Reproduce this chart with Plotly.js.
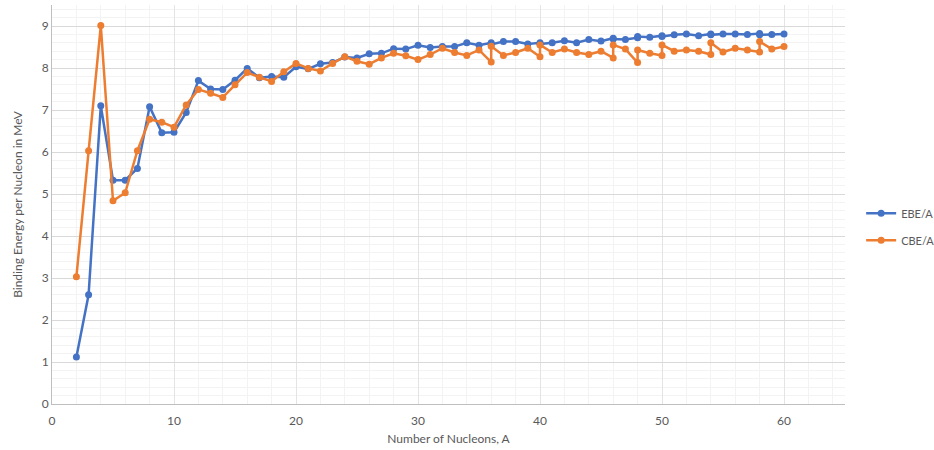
<!DOCTYPE html>
<html>
<head>
<meta charset="utf-8">
<script src="https://cdn.plot.ly/plotly-3.0.1.min.js"></script>
<style>html,body{margin:0;padding:0;background:#fff;}#chart{width:934px;height:450px;}</style>
</head>
<body>
<div id="chart"></div>
<script>
// Number of nucleons A (stable isobars appear twice)
const nucleons = [2,3,4,5,6,7,8,9,10,11,12,13,14,15,16,17,18,19,20,21,22,23,24,25,26,27,28,29,30,31,32,33,34,35,36,36,37,38,39,40,40,41,42,43,44,45,46,46,47,48,48,49,50,50,51,52,53,54,54,55,56,57,58,58,59,60];
// Experimental binding energy per nucleon (MeV)
const ebeA = [1.12,2.60,7.10,5.33,5.33,5.61,7.08,6.46,6.47,6.94,7.70,7.50,7.49,7.71,7.99,7.77,7.80,7.78,8.03,7.98,8.10,8.13,8.26,8.24,8.34,8.35,8.46,8.45,8.54,8.49,8.51,8.51,8.60,8.54,8.60,8.56,8.63,8.63,8.57,8.60,8.57,8.60,8.65,8.60,8.68,8.64,8.71,8.69,8.68,8.72,8.75,8.73,8.77,8.75,8.79,8.81,8.77,8.81,8.79,8.81,8.81,8.80,8.82,8.79,8.80,8.81];
// Calculated binding energy per nucleon (MeV)
const cbeA = [3.03,6.03,9.01,4.84,5.03,6.03,6.78,6.71,6.59,7.12,7.49,7.40,7.30,7.60,7.89,7.78,7.68,7.91,8.11,7.99,7.93,8.11,8.27,8.16,8.09,8.24,8.35,8.29,8.20,8.32,8.47,8.37,8.30,8.43,8.14,8.52,8.30,8.37,8.47,8.27,8.55,8.37,8.45,8.37,8.32,8.40,8.24,8.55,8.45,8.13,8.43,8.35,8.30,8.55,8.40,8.43,8.40,8.32,8.60,8.38,8.47,8.43,8.38,8.63,8.45,8.51];

const xTicks = [0,10,20,30,40,50,60];
const yTicks = [0,1,2,3,4,5,6,7,8,9];

const traces = [
  {x: nucleons, y: ebeA, name: 'EBE/A', legendgroup: 'e', type: 'scatter', mode: 'lines+markers',
   line: {color: '#4472C4', width: 2.5}, marker: {color: '#4472C4', size: 7}},
  {x: nucleons, y: cbeA, name: 'CBE/A', legendgroup: 'c', type: 'scatter', mode: 'lines+markers',
   line: {color: '#ED7D31', width: 2.5}, marker: {color: '#ED7D31', size: 7}}
];

const layout = {
  width: 934, height: 450,
  margin: {l: 52, r: 89, t: 5, b: 46, autoexpand: false},
  paper_bgcolor: '#ffffff', plot_bgcolor: '#ffffff',
  font: {family: 'Lato, "Open Sans", sans-serif', size: 12, color: '#595959'},
  showlegend: true,
  legend: {xref: 'container', yref: 'container', x: 0.922, y: 0.496, xanchor: 'left', yanchor: 'middle',
           font: {size: 11, color: '#595959'}, bgcolor: 'rgba(0,0,0,0)', tracegroupgap: 8},
  xaxis: {
    range: [0, 65], tickvals: xTicks, ticktext: xTicks.map(String),
    showgrid: true, gridcolor: '#e4e4e4', gridwidth: 1,
    minor: {dtick: 2, showgrid: true, gridcolor: '#f3f3f3', gridwidth: 1},
    showline: true, linecolor: '#bfbfbf', linewidth: 1,
    zeroline: false, ticks: '', ticklabelstandoff: 6, tickfont: {size: 12, color: '#595959'},
    title: {text: 'Number of Nucleons, A', font: {size: 12, color: '#595959'}, standoff: 7}
  },
  yaxis: {
    range: [0, 9.5], tickvals: yTicks, ticktext: yTicks.map(String),
    showgrid: true, gridcolor: '#d9d9d9', gridwidth: 1,
    minor: {dtick: 0.2, showgrid: true, gridcolor: '#f3f3f3', gridwidth: 1},
    showline: true, linecolor: '#bfbfbf', linewidth: 1,
    zeroline: false, ticks: '', tickfont: {size: 12, color: '#595959'},
    title: {text: 'Binding Energy per Nucleon in MeV', font: {size: 12, color: '#595959'}, standoff: 16}
  }
};

Plotly.newPlot('chart', traces, layout, {displayModeBar: false, staticPlot: true});
</script>
</body>
</html>
